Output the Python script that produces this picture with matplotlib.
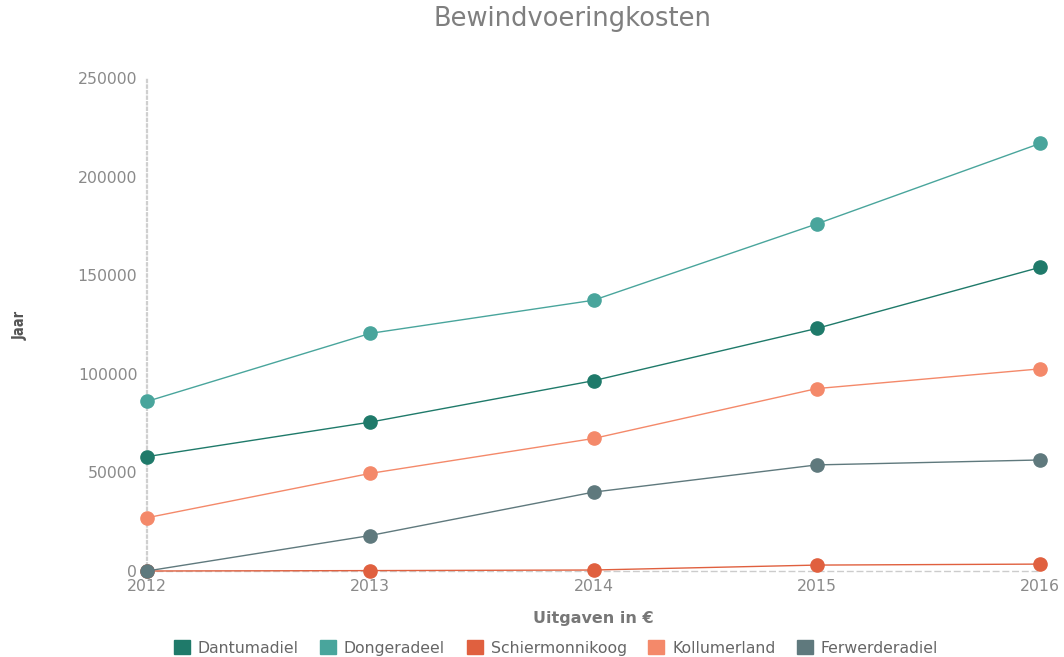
import matplotlib
matplotlib.use("Agg")
import matplotlib.pyplot as plt
from matplotlib.patches import Patch

plt.rcParams['font.family'] = ['DejaVu Sans']

years = [2012, 2013, 2014, 2015, 2016]
series_names = ["Dantumadiel", "Dongeradeel", "Schiermonnikoog", "Kollumerland", "Ferwerderadiel"]
dantumadiel = [58000, 75500, 96500, 123000, 154000]
dongeradeel = [86000, 120500, 137300, 176000, 216800]
schiermonnikoog = [0, 200, 500, 3000, 3500]
kollumerland = [27000, 49500, 67200, 92500, 102500]
ferwerderadiel = [0, 18000, 40000, 53800, 56300]
y_ticks = [0, 50000, 100000, 150000, 200000, 250000]

values = [dantumadiel, dongeradeel, schiermonnikoog, kollumerland, ferwerderadiel]
colors = ["#1f7a6a", "#49a59c", "#e0603f", "#f4896a", "#5f797d"]
# draw order: back to front
order = [3, 2, 1, 0, 4]

fig = plt.figure(figsize=(10.64, 6.57), dpi=100)
ax = fig.add_axes([147/1064, 1-571/657, (1040-147)/1064, (571-78)/657])

for i in order:
    ax.plot(years, values[i], color=colors[i], lw=1.0, marker='o', ms=9.5,
            mec=colors[i], mfc=colors[i], clip_on=False, zorder=3)

ax.set_xlim(2012, 2016)
ax.set_ylim(0, 250000)
ax.set_xticks(years)
ax.set_xticklabels([str(y) for y in years])
ax.set_yticks(y_ticks)
ax.set_yticklabels([str(v) for v in y_ticks])
ax.tick_params(axis='both', length=0, labelsize=11.3, labelcolor='#8a8a8a')
ax.tick_params(axis='y', pad=7)
ax.tick_params(axis='x', pad=5.5)

for s in ['top', 'right']:
    ax.spines[s].set_visible(False)
ax.spines['left'].set_linestyle((0, (1, 1.5)))
ax.spines['left'].set_color('#cfcfcf')
ax.spines['left'].set_linewidth(1.6)
ax.spines['bottom'].set_linestyle((0, (4, 3)))
ax.spines['bottom'].set_color('#cccccc')
ax.spines['bottom'].set_linewidth(1.0)

fig.text(572/1064, 1-19/657, "Bewindvoeringkosten", ha='center', va='center',
         fontsize=18.5, color='#7f7f7f')
fig.text(20/1064, 1-325/657, "Jaar", rotation=90, ha='center', va='center',
         fontsize=10.5, color='#555555', fontweight='bold', fontstretch='condensed')
fig.text(593/1064, 1-619/657, "Uitgaven in €", ha='center', va='center',
         fontsize=11.5, color='#777777', fontweight='bold')

handles = [Patch(facecolor=c, edgecolor=c, label=n) for n, c in zip(series_names, colors)]
fig.legend(handles=handles, loc='center', bbox_to_anchor=(556/1064, 1-648/657), ncol=5,
           frameon=False, fontsize=11.3, handlelength=1.0, handleheight=1.0,
           handletextpad=0.5, columnspacing=1.4, labelcolor='#666666')

fig.savefig("out.png", dpi=100)
